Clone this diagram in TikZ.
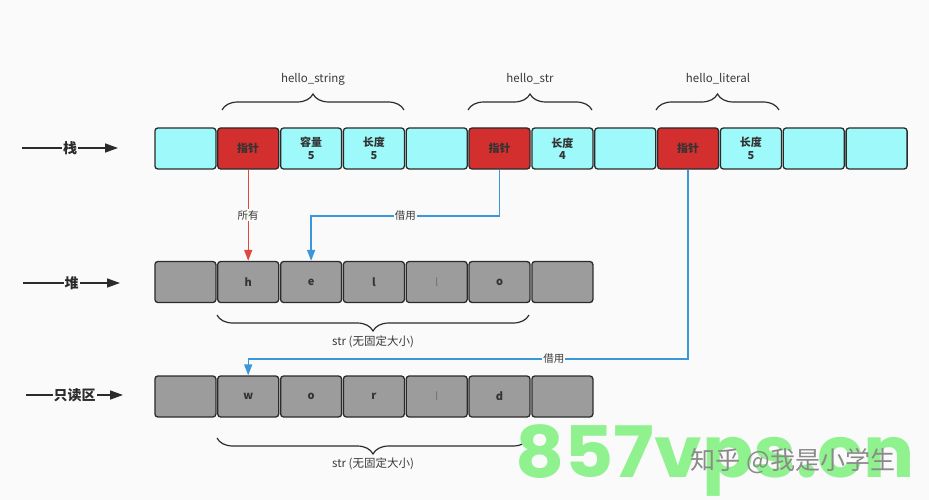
\documentclass[tikz,border=0pt]{standalone}
\usepackage{fontspec}
\setmainfont{Noto Sans CJK SC}
\newfontfamily\wmfont{Poppins}
\usetikzlibrary{arrows.meta,decorations.pathreplacing}
\definecolor{bgc}{HTML}{FAFAFA}
\definecolor{bordc}{HTML}{2B2B2B}
\definecolor{cyanc}{HTML}{9EFAFA}
\definecolor{redc}{HTML}{D42F2F}
\definecolor{greyc}{HTML}{9C9C9C}
\definecolor{txtc}{HTML}{333333}
\definecolor{labc}{HTML}{3A3A3A}
\definecolor{redarr}{HTML}{E0483F}
\definecolor{bluearr}{HTML}{3A98DA}
\definecolor{wmgreen}{HTML}{8FF28F}
\definecolor{wmgrey}{HTML}{8A8A8A}
\begin{document}
\begin{tikzpicture}[x=1pt,y=-1pt,
  cell/.style={draw=bordc, line width=1.3pt, rounded corners=3pt, minimum width=61pt, minimum height=41pt, inner sep=0pt, font=\fontsize{11}{12.5}\selectfont\bfseries, text=txtc, align=center},
  cy/.style={cell, fill=cyanc},
  rd/.style={cell, fill=redc},
  gy/.style={cell, fill=greyc},
  brc/.style={decorate, decoration={brace, amplitude=16pt}, line width=1.2pt, draw=bordc},
  lbl/.style={font=\fontsize{11.5}{13}\selectfont, text=labc},
  onl/.style={font=\fontsize{10.5}{12}\selectfont, text=labc, fill=bgc, inner sep=1pt},
  side/.style={font=\fontsize{14}{15}\selectfont\bfseries, text=bordc, fill=bgc, inner sep=1pt},
  karr/.style={draw=bordc, line width=1.5pt, -{Triangle[length=13pt,width=9pt]}},
  rarr/.style={draw=redarr, line width=1.4pt, -{Triangle[length=11pt,width=8pt]}},
  barr/.style={draw=bluearr, line width=1.4pt, -{Triangle[length=11pt,width=8pt]}},
  thin/.style={font=\fontsize{11}{12.5}\selectfont, text=labc!70}
]
\fill[bgc] (0,0) rectangle (929,500);
\useasboundingbox (0,0) rectangle (929,500);

% stack row
\node[cy] (s1) at (185.4,148.5) {};
\node[rd] (s2) at (248.2,148.5) {指针};
\node[cy] (s3) at (311.1,148.5) {容量\\5};
\node[cy] (s4) at (373.9,148.5) {长度\\5};
\node[cy] (s5) at (436.7,148.5) {};
\node[rd] (s6) at (499.5,148.5) {指针};
\node[cy] (s7) at (562.4,148.5) {长度\\4};
\node[cy] (s8) at (625.2,148.5) {};
\node[rd] (s9) at (688.1,148.5) {指针};
\node[cy] (s10) at (750.9,148.5) {长度\\5};
\node[cy] (s11) at (813.7,148.5) {};
\node[cy] (s12) at (876.6,148.5) {};

% heap row
\node[gy] (h1) at (185.4,282) {};
\node[gy] (h2) at (248.2,282) {h};
\node[gy] (h3) at (311.1,282) {e};
\node[gy] (h4) at (373.9,282) {l};
\node[gy, thin] (h5) at (436.7,282) {l};
\node[gy] (h6) at (499.5,282) {o};
\node[gy] (h7) at (562.4,282) {};

% read-only row
\node[gy] (r1) at (185.4,396.5) {};
\node[gy] (r2) at (248.2,396.5) {w};
\node[gy] (r3) at (311.1,396.5) {o};
\node[gy] (r4) at (373.9,396.5) {r};
\node[gy, thin] (r5) at (436.7,396.5) {l};
\node[gy] (r6) at (499.5,396.5) {d};
\node[gy] (r7) at (562.4,396.5) {};

% top braces
\draw[brc] (222,110) -- (404,110);
\draw[brc] (468,110) -- (592,110);
\draw[brc] (656,110) -- (779,110);
\node[lbl] (l1) at (313,79) {hello\_string};
\node[lbl] (l2) at (530,79) {hello\_str};
\node[lbl] (l3) at (718,79) {hello\_literal};

% bottom braces
\draw[brc] (529,315) -- (217,315);
\draw[brc] (529,438) -- (217,438);
\node[lbl] (l4) at (373,342) {str (无固定大小)};
\node[lbl] (l5) at (373,464) {str (无固定大小)};

% side labels
\coordinate (a1) at (22,148);
\coordinate (a2) at (118,148);
\coordinate (b1) at (23,283);
\coordinate (b2) at (120,283);
\coordinate (c1) at (26,395);
\coordinate (c2) at (123,395);
\draw[karr] (a1) -- node[side] {栈} (a2);
\draw[karr] (b1) -- node[side] {堆} (b2);
\draw[karr] (c1) -- node[side] {只读区} (c2);

% ownership / borrow arrows
\draw[rarr] (s2.south) -- node[onl, pos=0.5] {所有} (h2.north);
\coordinate (p1) at (499.5,216);
\coordinate (p2) at (311.1,216);
\draw[barr] (s6.south) -- (p1) -- node[onl] {借用} (p2) -- (h3.north);
\coordinate (q1) at (688.1,359);
\coordinate (q2) at (248.2,359);
\draw[barr] (s9.south) -- (q1) -- node[onl, pos=0.305] {借用} (q2) -- (r2.north);

% watermark
\node[font=\wmfont\bfseries\fontsize{71}{71}\selectfont, text=wmgreen, anchor=base west, inner sep=0pt, xscale=1.07] (wm) at (515,477) {857vps.cn};
\node[font=\fontsize{25}{25}\selectfont, text=wmgrey, inner sep=0pt] (zh) at (793,461) {知乎\hspace{6pt}@我是小学生};
\end{tikzpicture}
\end{document}
